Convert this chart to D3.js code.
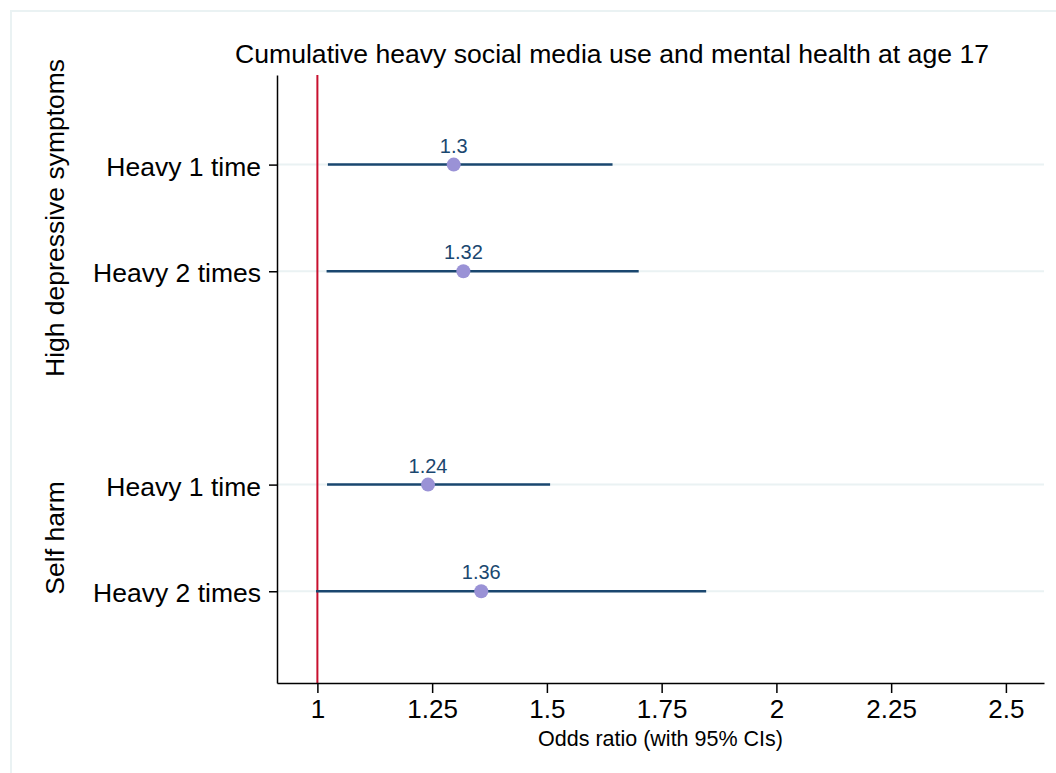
<!DOCTYPE html>
<html>
<head>
<meta charset="utf-8">
<script src="https://d3js.org/d3.v7.min.js"></script>
<style>
body { margin: 0; background: #fff; }
text { font-family: "Liberation Sans", Arial, sans-serif; }
</style>
</head>
<body>
<div id="chart"></div>
<script>
// data
var groups = ["High depressive symptoms", "Self harm"];
var rowLabels = ["Heavy 1 time", "Heavy 2 times", "Heavy 1 time", "Heavy 2 times"];
var rowGroup = [0, 0, 1, 1];
var rowPos = [1, 2, 4, 5];
var estimates = [1.297, 1.318, 1.241, 1.357];
var lower = [1.023, 1.020, 1.021, 0.997];
var upper = [1.643, 1.700, 1.507, 1.847];
var estLabels = ["1.3", "1.32", "1.24", "1.36"];
var xTicks = [1, 1.25, 1.5, 1.75, 2, 2.25, 2.5];

var W = 1056, H = 773;
var margin = {top: 75, bottom: 90, right: 12, left: 277};
var width = W - margin.left - margin.right;
var height = H - margin.top - margin.bottom;

var svg = d3.select("#chart")
.append("svg")
.attr("width", W)
.attr("height", H);

// outer frame of the graph region
svg.append("rect")
.attr("x", 11).attr("y", 11)
.attr("width", 1200).attr("height", 900)
.attr("fill", "none")
.attr("stroke", "#eaf2f3")
.attr("stroke-width", 2);

var g = svg.append("g")
.attr("transform", "translate(" + margin.left + "," + margin.top + ")");

var x = d3.scaleLinear()
.domain([0.912, 2.583])
.range([0, width]);

var y = d3.scaleLinear()
.domain([0.16, 5.86])
.range([0, height]);

var rows = rowLabels.map(function(d, i) {
  return {label: d, pos: rowPos[i], est: estimates[i], lo: lower[i], hi: upper[i], txt: estLabels[i]};
});

// gridlines
g.append("g")
.selectAll("line")
.data(rows)
.enter()
.append("line")
.attr("x1", 0).attr("x2", width)
.attr("y1", function(d) { return y(d.pos); })
.attr("y2", function(d) { return y(d.pos); })
.attr("stroke", "#eaf2f3")
.attr("stroke-width", 2);

// reference line at 1
g.append("line")
.attr("x1", x(1)).attr("x2", x(1))
.attr("y1", 0).attr("y2", height)
.attr("stroke", "#c8102e")
.attr("stroke-width", 2);

// x axis
var xAxis = g.append("g")
.attr("transform", "translate(0," + height + ")")
.call(d3.axisBottom(x).tickValues(xTicks).tickSize(10).tickSizeOuter(0).tickPadding(7).tickFormat(d3.format("~g")));
xAxis.select(".domain").attr("stroke", "#000").attr("stroke-width", 1.5);
xAxis.selectAll(".tick line").attr("stroke", "#000").attr("stroke-width", 1.5);
xAxis.selectAll("text")
.attr("font-size", 26)
.attr("fill", "#000");

// y axis
var yAxis = g.append("g")
.call(d3.axisLeft(y).tickValues(rowPos).tickSize(8).tickSizeOuter(0).tickPadding(8)
  .tickFormat(function(d) { return rowLabels[rowPos.indexOf(d)]; }));
yAxis.select(".domain").attr("stroke", "#000").attr("stroke-width", 1.5);
yAxis.selectAll(".tick line").attr("stroke", "#000").attr("stroke-width", 1.5);
yAxis.selectAll("text")
.attr("font-size", 26.5)
.attr("dy", "0.4em")
.attr("fill", "#000");

// confidence intervals
g.append("g")
.selectAll("line")
.data(rows)
.enter()
.append("line")
.attr("x1", function(d) { return x(d.lo); })
.attr("x2", function(d) { return x(d.hi); })
.attr("y1", function(d) { return y(d.pos); })
.attr("y2", function(d) { return y(d.pos); })
.attr("stroke", "#1a476f")
.attr("stroke-width", 2.5);

// point estimates
g.append("g")
.selectAll("circle")
.data(rows)
.enter()
.append("circle")
.attr("cx", function(d) { return x(d.est); })
.attr("cy", function(d) { return y(d.pos); })
.attr("r", 7)
.attr("fill", "#9a92d6");

g.append("g")
.selectAll("text")
.data(rows)
.enter()
.append("text")
.text(function(d) { return d.txt; })
.attr("x", function(d) { return x(d.est); })
.attr("y", function(d) { return y(d.pos) - 12; })
.attr("text-anchor", "middle")
.attr("font-size", 20)
.attr("fill", "#1a476f");

// group titles
groups.forEach(function(name, gi) {
  var ps = rowPos.filter(function(p, i) { return rowGroup[i] === gi; });
  var cy = margin.top + (y(d3.min(ps)) + y(d3.max(ps))) / 2;
  svg.append("text")
  .text(name)
  .attr("text-anchor", "middle")
  .attr("font-size", 26.5)
  .attr("transform", "translate(64," + cy + ") rotate(-90)");
});

// title and axis label
svg.append("text")
.text("Cumulative heavy social media use and mental health at age 17")
.attr("x", 612)
.attr("y", 63)
.attr("text-anchor", "middle")
.attr("font-size", 26.6);

svg.append("text")
.text("Odds ratio (with 95% CIs)")
.attr("x", margin.left + width / 2)
.attr("y", 746)
.attr("text-anchor", "middle")
.attr("font-size", 21.5);
</script>
</body>
</html>
